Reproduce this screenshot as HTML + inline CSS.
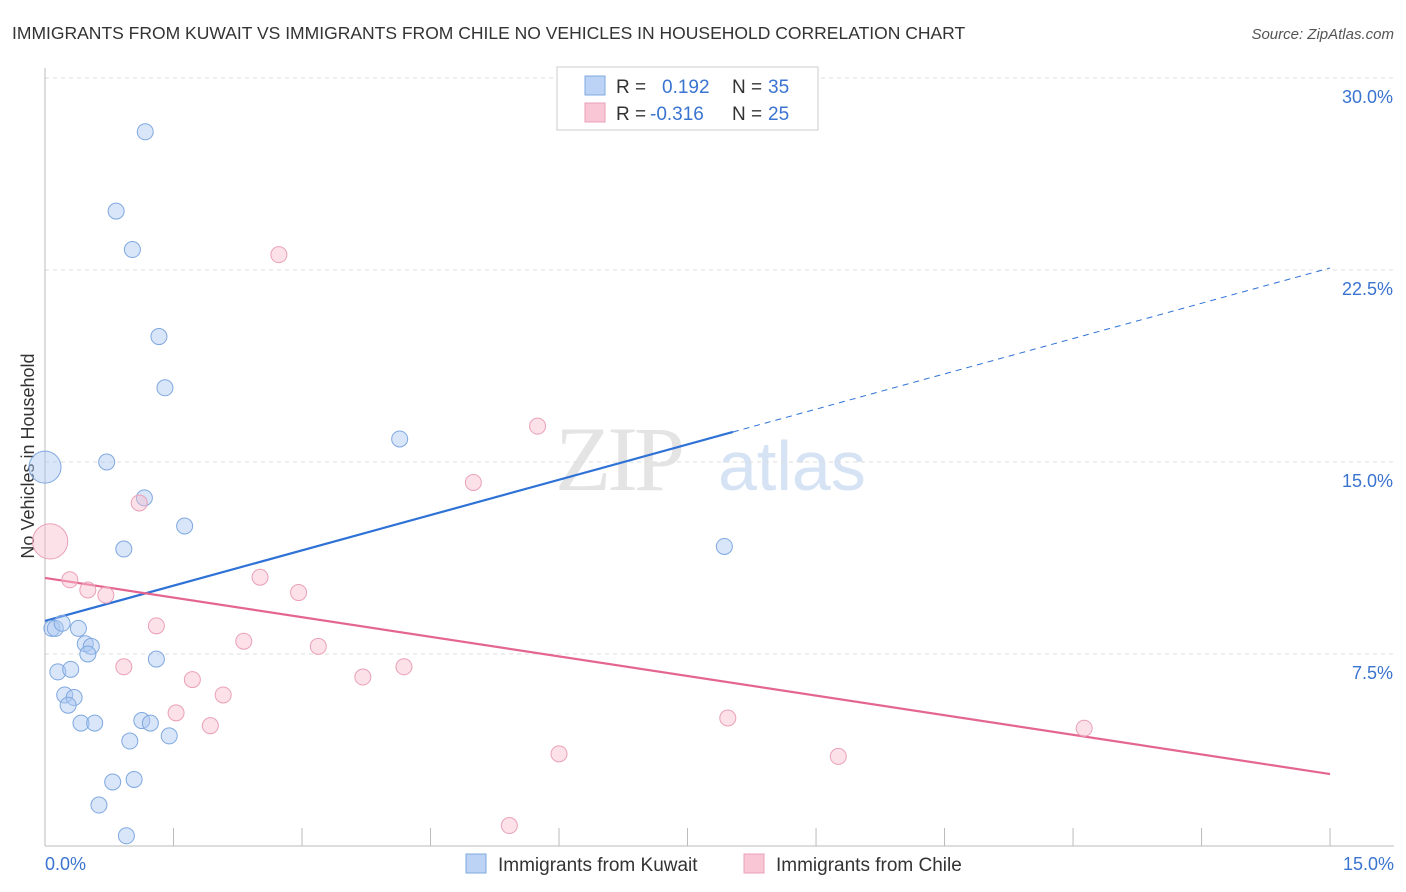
<!DOCTYPE html>
<html><head><meta charset="utf-8"><style>
body{margin:0;background:#fff;font-family:"Liberation Sans",sans-serif}
svg{display:block}
</style></head><body>
<svg id="c" width="1406" height="892">
<text x="12" y="39" font-size="17.5" fill="#333">IMMIGRANTS FROM KUWAIT VS IMMIGRANTS FROM CHILE NO VEHICLES IN HOUSEHOLD CORRELATION CHART</text>
<text x="1394" y="39" font-size="15" fill="#555" font-style="italic" text-anchor="end">Source: ZipAtlas.com</text>
<text x="0" y="0" transform="translate(34,456) rotate(-90)" font-size="18" fill="#333" text-anchor="middle">No Vehicles in Household</text>
<g><text x="555" y="490" font-size="92" font-family="Liberation Serif" fill="#e4e4e4" letter-spacing="-4">ZIP</text><text x="718" y="490" font-size="70" fill="#d6e3f5">atlas</text></g>
<g id="grid"></g><g id="axes"></g><g id="lines"></g><g id="pts"></g>
<g>
<rect x="557" y="67" width="261" height="63" fill="#fff" stroke="#ccc"/>
<rect x="585" y="76" width="20" height="19" fill="#bcd3f5" stroke="#7fa8e0"/>
<rect x="585" y="103" width="20" height="19" fill="#f9c6d6" stroke="#eaa0b8"/>
<text x="616" y="93" font-size="19" fill="#333">R = </text><text x="662" y="93" font-size="19" fill="#3a74d0">0.192</text>
<text x="732" y="93" font-size="19" fill="#333">N = </text><text x="768" y="93" font-size="19" fill="#3a74d0">35</text>
<text x="616" y="120" font-size="19" fill="#333">R = </text><text x="650" y="120" font-size="19" fill="#3a74d0">-0.316</text>
<text x="732" y="120" font-size="19" fill="#333">N = </text><text x="768" y="120" font-size="19" fill="#3a74d0">25</text>
</g>
<g>
<rect x="466" y="854" width="20" height="19" fill="#bcd3f5" stroke="#7fa8e0"/>
<text x="498" y="871" font-size="19" fill="#333">Immigrants from Kuwait</text>
<rect x="744" y="854" width="20" height="19" fill="#f9c6d6" stroke="#eaa0b8"/>
<text x="776" y="871" font-size="19" fill="#333">Immigrants from Chile</text>
</g>
</svg>
<script>
const yTicks=[7.5,15,22.5,30];
const yTickLabels=["7.5%","15.0%","22.5%","30.0%"];
const xEndLabels=["0.0%","15.0%"];
const kuwaitX=[1.17,0.83,1.02,1.33,1.40,4.14,0.72,0.0,1.16,1.63,0.92,7.93,0.08,0.12,0.20,0.39,0.47,0.54,0.50,1.30,0.15,0.30,0.23,0.34,0.27,0.42,0.58,1.13,1.23,1.45,0.99,0.79,1.04,0.63,0.95];
const kuwaitY=[27.9,24.8,23.3,19.9,17.9,15.9,15.0,14.8,13.6,12.5,11.6,11.7,8.5,8.5,8.7,8.5,7.9,7.8,7.5,7.3,6.8,6.9,5.9,5.8,5.5,4.8,4.8,4.9,4.8,4.3,4.1,2.5,2.6,1.6,0.4];
const kuwaitSize=[1,1,1,1,1,1,1,2,1,1,1,1,1,1,1,1,1,1,1,1,1,1,1,1,1,1,1,1,1,1,1,1,1,1,1];
const chileX=[2.73,5.75,5.00,1.10,0.06,0.29,0.50,0.71,2.51,2.96,1.30,2.32,3.19,0.92,4.19,1.72,3.71,2.08,1.53,1.93,7.97,12.13,6.00,9.26,5.42];
const chileY=[23.1,16.4,14.2,13.4,11.9,10.4,10.0,9.8,10.5,9.9,8.6,8.0,7.8,7.0,7.0,6.5,6.6,5.9,5.2,4.7,5.0,4.6,3.6,3.5,0.8];
const chileSize=[1,1,1,1,2.2,1,1,1,1,1,1,1,1,1,1,1,1,1,1,1,1,1,1,1,1];
const kuwaitTrend=[8.79,22.58]; // y at x=0 and x=15
const kuwaitSolidEnd=8.03;
const chileTrend=[10.47,2.81];
const NS="http://www.w3.org/2000/svg";
const X=v=>45+v*85.67, Y=v=>846-v*25.6;
function mk(t,a,p){const e=document.createElementNS(NS,t);for(const k in a)e.setAttribute(k,a[k]);document.getElementById(p).appendChild(e);return e;}
yTicks.forEach((t,i)=>{
 const l=mk('line',{x1:45,x2:1394,y1:Y(t),y2:Y(t),stroke:'#ddd','stroke-dasharray':'4,4'},'grid');
 
 
 const tx=mk('text',{x:1393,y:Y(t)+25,'font-size':18,fill:'#3a74d0','text-anchor':'end'},'grid');
 tx.textContent=yTickLabels[i];
 
 
});
const ax=mk('line',{x1:45,x2:1394,y1:846,y2:846,stroke:'#bbb'},'axes');


const ay=mk('line',{x1:45,x2:45,y1:68,y2:846,stroke:'#bbb'},'axes');


for(let i=0;i<=10;i++){const t=mk('line',{x1:X(i*1.5),x2:X(i*1.5),y1:828,y2:846,stroke:'#bbb'},'axes');
 
 }
[[0,xEndLabels[0],'start',45],[15,xEndLabels[1],'end',1394]].forEach(d=>{const t=mk('text',{x:d[3],y:870,'font-size':18,fill:'#3a74d0','text-anchor':d[2]},'axes');t.textContent=d[1];
 
 });
function pts(xs,ys,ss,fill,stroke,name){xs.forEach((x,i)=>{const c=mk('circle',{cx:X(x),cy:Y(ys[i]),r:8*ss[i],fill:fill,stroke:stroke,'stroke-width':1},'pts');
 
 });}
pts(kuwaitX,kuwaitY,kuwaitSize,'rgba(170,200,242,0.45)','#7fa8e0','kuwait-point');
pts(chileX,chileY,chileSize,'rgba(248,188,207,0.45)','#eaa0b8','chile-point');
const ky=x=>kuwaitTrend[0]+(kuwaitTrend[1]-kuwaitTrend[0])*x/15;
const b1=mk('line',{x1:X(0),y1:Y(ky(0)),x2:X(kuwaitSolidEnd),y2:Y(ky(kuwaitSolidEnd)),stroke:'#2f72d6','stroke-width':2.2},'lines');


const b2=mk('line',{x1:X(kuwaitSolidEnd),y1:Y(ky(kuwaitSolidEnd)),x2:X(15),y2:Y(ky(15)),stroke:'#2f72d6','stroke-width':1,'stroke-dasharray':'6,5'},'lines');


const p1=mk('line',{x1:X(0),y1:Y(chileTrend[0]),x2:X(15),y2:Y(chileTrend[1]),stroke:'#e4668f','stroke-width':2.2},'lines');


</script>
</body></html>
